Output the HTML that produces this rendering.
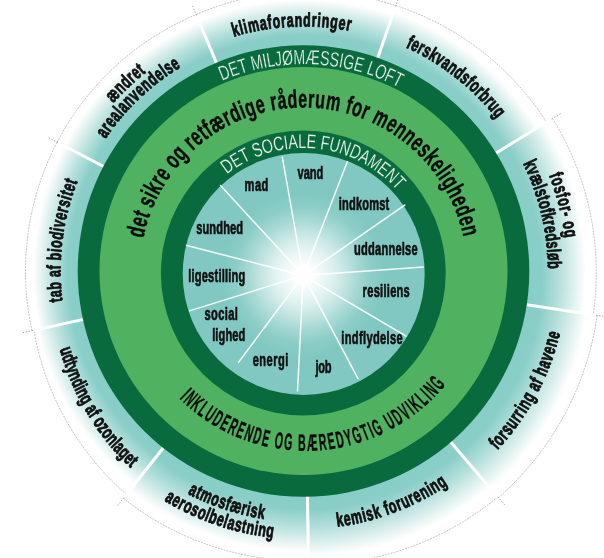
<!DOCTYPE html>
<html><head><meta charset="utf-8"><style>html,body{margin:0;padding:0;background:#fff;}svg{display:block;font-family:"Liberation Sans",sans-serif;will-change:transform;}</style></head>
<body><svg width="604" height="558" viewBox="0 0 604 558" font-family="Liberation Sans, sans-serif">
<defs><radialGradient id="og0" gradientUnits="userSpaceOnUse" cx="303.5" cy="271.0" r="279.5"><stop offset="0.8050" stop-color="#88cdc7"/><stop offset="0.8440" stop-color="#8bcec8"/><stop offset="0.8947" stop-color="#b5e0dc"/><stop offset="0.9376" stop-color="#dff1ef"/><stop offset="0.9708" stop-color="#ffffff"/><stop offset="1" stop-color="#ffffff"/></radialGradient><radialGradient id="og1" gradientUnits="userSpaceOnUse" cx="303.5" cy="271.0" r="283.0"><stop offset="0.7951" stop-color="#88cdc7"/><stop offset="0.8360" stop-color="#8bcec8"/><stop offset="0.8893" stop-color="#b5e0dc"/><stop offset="0.9344" stop-color="#dff1ef"/><stop offset="0.9693" stop-color="#ffffff"/><stop offset="1" stop-color="#ffffff"/></radialGradient><radialGradient id="og2" gradientUnits="userSpaceOnUse" cx="303.5" cy="271.0" r="292.5"><stop offset="0.7692" stop-color="#88cdc7"/><stop offset="0.8154" stop-color="#8bcec8"/><stop offset="0.8754" stop-color="#b5e0dc"/><stop offset="0.9262" stop-color="#dff1ef"/><stop offset="0.9654" stop-color="#ffffff"/><stop offset="1" stop-color="#ffffff"/></radialGradient><radialGradient id="og3" gradientUnits="userSpaceOnUse" cx="303.5" cy="271.0" r="298.0"><stop offset="0.7550" stop-color="#88cdc7"/><stop offset="0.8040" stop-color="#8bcec8"/><stop offset="0.8677" stop-color="#b5e0dc"/><stop offset="0.9216" stop-color="#dff1ef"/><stop offset="0.9633" stop-color="#ffffff"/><stop offset="1" stop-color="#ffffff"/></radialGradient><radialGradient id="og4" gradientUnits="userSpaceOnUse" cx="303.5" cy="271.0" r="296.0"><stop offset="0.7601" stop-color="#88cdc7"/><stop offset="0.8081" stop-color="#8bcec8"/><stop offset="0.8705" stop-color="#b5e0dc"/><stop offset="0.9232" stop-color="#dff1ef"/><stop offset="0.9640" stop-color="#ffffff"/><stop offset="1" stop-color="#ffffff"/></radialGradient><radialGradient id="og5" gradientUnits="userSpaceOnUse" cx="303.5" cy="271.0" r="290.0"><stop offset="0.7759" stop-color="#88cdc7"/><stop offset="0.8207" stop-color="#8bcec8"/><stop offset="0.8790" stop-color="#b5e0dc"/><stop offset="0.9283" stop-color="#dff1ef"/><stop offset="0.9664" stop-color="#ffffff"/><stop offset="1" stop-color="#ffffff"/></radialGradient><radialGradient id="og6" gradientUnits="userSpaceOnUse" cx="303.5" cy="271.0" r="280.5"><stop offset="0.8021" stop-color="#88cdc7"/><stop offset="0.8417" stop-color="#8bcec8"/><stop offset="0.8932" stop-color="#b5e0dc"/><stop offset="0.9367" stop-color="#dff1ef"/><stop offset="0.9703" stop-color="#ffffff"/><stop offset="1" stop-color="#ffffff"/></radialGradient><radialGradient id="og7" gradientUnits="userSpaceOnUse" cx="303.5" cy="271.0" r="278.0"><stop offset="0.8094" stop-color="#88cdc7"/><stop offset="0.8475" stop-color="#8bcec8"/><stop offset="0.8971" stop-color="#b5e0dc"/><stop offset="0.9390" stop-color="#dff1ef"/><stop offset="0.9714" stop-color="#ffffff"/><stop offset="1" stop-color="#ffffff"/></radialGradient><radialGradient id="og8" gradientUnits="userSpaceOnUse" cx="303.5" cy="271.0" r="278.0"><stop offset="0.8094" stop-color="#88cdc7"/><stop offset="0.8475" stop-color="#8bcec8"/><stop offset="0.8971" stop-color="#b5e0dc"/><stop offset="0.9390" stop-color="#dff1ef"/><stop offset="0.9714" stop-color="#ffffff"/><stop offset="1" stop-color="#ffffff"/></radialGradient><radialGradient id="glow" gradientUnits="userSpaceOnUse" cx="303.2" cy="274.5" r="100"><stop offset="0" stop-color="#fff"/><stop offset="0.07" stop-color="#fff" stop-opacity="1"/><stop offset="0.18" stop-color="#fff" stop-opacity="0.88"/><stop offset="0.3" stop-color="#fff" stop-opacity="0.74"/><stop offset="0.42" stop-color="#fff" stop-opacity="0.54"/><stop offset="0.55" stop-color="#fff" stop-opacity="0.3"/><stop offset="0.68" stop-color="#fff" stop-opacity="0.1"/><stop offset="0.82" stop-color="#fff" stop-opacity="0.0"/><stop offset="1" stop-color="#fff" stop-opacity="0"/></radialGradient></defs>
<rect width="604" height="558" fill="#fff"/>
<path d="M196.22 14.53 L200.90 12.55 L205.61 10.64 L210.36 8.83 L215.15 7.10 L219.96 5.45 L224.81 3.90 L229.69 2.43 L234.59 1.06 L239.52 -0.23 L244.47 -1.43 L249.45 -2.54 L254.45 -3.55 L259.46 -4.48 L264.49 -5.31 L269.54 -6.05 L274.61 -6.70 L279.68 -7.26 L284.77 -7.72 L289.86 -8.09 L294.96 -8.37 L300.07 -8.55 L305.18 -8.64 L310.30 -8.64 L315.41 -8.55 L320.53 -8.36 L325.64 -8.07 L330.74 -7.70 L335.84 -7.23 L340.93 -6.66 L346.01 -6.01 L351.08 -5.26 L356.14 -4.41 L361.18 -3.48 L366.20 -2.45 L371.21 -1.33 L376.20 -0.12 L381.16 1.18 L386.10 2.57 L391.02 4.06 L395.91 5.63 L377.49 58.52 A225 225 0 0 0 216.67 63.43 Z" fill="url(#og0)"/><path d="M196.22 14.53 L200.90 12.55 L205.61 10.64 L210.36 8.83 L215.15 7.10 L219.96 5.45 L224.81 3.90 L229.69 2.43 L234.59 1.06 L239.52 -0.23 L244.47 -1.43 L249.45 -2.54 L254.45 -3.55 L259.46 -4.48 L264.49 -5.31 L269.54 -6.05 L274.61 -6.70 L279.68 -7.26 L284.77 -7.72 L289.86 -8.09 L294.96 -8.37 L300.07 -8.55 L305.18 -8.64 L310.30 -8.64 L315.41 -8.55 L320.53 -8.36 L325.64 -8.07 L330.74 -7.70 L335.84 -7.23 L340.93 -6.66 L346.01 -6.01 L351.08 -5.26 L356.14 -4.41 L361.18 -3.48 L366.20 -2.45 L371.21 -1.33 L376.20 -0.12 L381.16 1.18 L386.10 2.57 L391.02 4.06 L395.91 5.63" fill="none" stroke="#808080" stroke-width="0.7" stroke-dasharray="2 1" opacity="0.65"/><path d="M395.91 5.63 L400.48 7.16 L405.03 8.77 L409.55 10.46 L414.04 12.22 L418.50 14.06 L422.93 15.98 L427.33 17.98 L431.70 20.05 L436.03 22.20 L440.32 24.42 L444.58 26.71 L448.80 29.08 L452.98 31.52 L457.12 34.04 L461.22 36.62 L465.27 39.28 L469.28 42.01 L473.24 44.80 L477.15 47.67 L481.02 50.60 L484.84 53.60 L488.60 56.67 L492.32 59.80 L495.98 62.99 L499.59 66.25 L503.14 69.57 L506.64 72.96 L510.08 76.40 L513.46 79.90 L516.78 83.47 L520.04 87.09 L523.24 90.76 L526.37 94.50 L529.45 98.28 L532.46 102.12 L535.40 106.02 L538.28 109.96 L541.09 113.95 L543.83 118.00 L546.50 122.09 L495.34 153.44 A225 225 0 0 0 377.49 58.52 Z" fill="url(#og1)"/><path d="M395.91 5.63 L400.48 7.16 L405.03 8.77 L409.55 10.46 L414.04 12.22 L418.50 14.06 L422.93 15.98 L427.33 17.98 L431.70 20.05 L436.03 22.20 L440.32 24.42 L444.58 26.71 L448.80 29.08 L452.98 31.52 L457.12 34.04 L461.22 36.62 L465.27 39.28 L469.28 42.01 L473.24 44.80 L477.15 47.67 L481.02 50.60 L484.84 53.60 L488.60 56.67 L492.32 59.80 L495.98 62.99 L499.59 66.25 L503.14 69.57 L506.64 72.96 L510.08 76.40 L513.46 79.90 L516.78 83.47 L520.04 87.09 L523.24 90.76 L526.37 94.50 L529.45 98.28 L532.46 102.12 L535.40 106.02 L538.28 109.96 L541.09 113.95 L543.83 118.00 L546.50 122.09" fill="none" stroke="#808080" stroke-width="0.7" stroke-dasharray="2 1" opacity="0.65"/><path d="M552.47 118.43 L555.12 122.80 L557.70 127.21 L560.20 131.67 L562.62 136.17 L564.96 140.71 L567.22 145.30 L569.40 149.92 L571.51 154.58 L573.52 159.28 L575.46 164.01 L577.31 168.77 L579.09 173.57 L580.77 178.40 L582.37 183.26 L583.89 188.14 L585.32 193.06 L586.66 197.99 L587.92 202.95 L589.09 207.93 L590.18 212.94 L591.18 217.96 L592.08 222.99 L592.90 228.05 L593.64 233.11 L594.28 238.19 L594.83 243.28 L595.30 248.38 L595.68 253.49 L595.96 258.60 L596.16 263.72 L596.27 268.84 L596.28 273.96 L596.21 279.09 L596.05 284.21 L595.80 289.33 L595.46 294.44 L595.03 299.55 L594.51 304.65 L593.90 309.74 L593.21 314.81 L525.97 304.65 A225 225 0 0 0 495.34 153.44 Z" fill="url(#og2)"/><path d="M552.47 118.43 L555.12 122.80 L557.70 127.21 L560.20 131.67 L562.62 136.17 L564.96 140.71 L567.22 145.30 L569.40 149.92 L571.51 154.58 L573.52 159.28 L575.46 164.01 L577.31 168.77 L579.09 173.57 L580.77 178.40 L582.37 183.26 L583.89 188.14 L585.32 193.06 L586.66 197.99 L587.92 202.95 L589.09 207.93 L590.18 212.94 L591.18 217.96 L592.08 222.99 L592.90 228.05 L593.64 233.11 L594.28 238.19 L594.83 243.28 L595.30 248.38 L595.68 253.49 L595.96 258.60 L596.16 263.72 L596.27 268.84 L596.28 273.96 L596.21 279.09 L596.05 284.21 L595.80 289.33 L595.46 294.44 L595.03 299.55 L594.51 304.65 L593.90 309.74 L593.21 314.81" fill="none" stroke="#808080" stroke-width="0.7" stroke-dasharray="2 1" opacity="0.65"/><path d="M597.16 315.41 L596.37 320.63 L595.50 325.83 L594.53 331.02 L593.46 336.19 L592.31 341.34 L591.06 346.47 L589.72 351.58 L588.30 356.66 L586.78 361.72 L585.17 366.75 L583.47 371.75 L581.69 376.73 L579.81 381.67 L577.85 386.58 L575.80 391.45 L573.66 396.29 L571.44 401.09 L569.13 405.85 L566.74 410.57 L564.26 415.25 L561.70 419.88 L559.06 424.47 L556.34 429.01 L553.53 433.50 L550.65 437.94 L547.69 442.33 L544.65 446.67 L541.53 450.96 L538.34 455.19 L535.07 459.36 L531.72 463.47 L528.31 467.53 L524.82 471.52 L521.26 475.46 L517.63 479.32 L513.93 483.13 L510.17 486.87 L506.34 490.54 L502.44 494.15 L498.48 497.68 L450.22 441.58 A225 225 0 0 0 525.97 304.65 Z" fill="url(#og3)"/><path d="M597.16 315.41 L596.37 320.63 L595.50 325.83 L594.53 331.02 L593.46 336.19 L592.31 341.34 L591.06 346.47 L589.72 351.58 L588.30 356.66 L586.78 361.72 L585.17 366.75 L583.47 371.75 L581.69 376.73 L579.81 381.67 L577.85 386.58 L575.80 391.45 L573.66 396.29 L571.44 401.09 L569.13 405.85 L566.74 410.57 L564.26 415.25 L561.70 419.88 L559.06 424.47 L556.34 429.01 L553.53 433.50 L550.65 437.94 L547.69 442.33 L544.65 446.67 L541.53 450.96 L538.34 455.19 L535.07 459.36 L531.72 463.47 L528.31 467.53 L524.82 471.52 L521.26 475.46 L517.63 479.32 L513.93 483.13 L510.17 486.87 L506.34 490.54 L502.44 494.15 L498.48 497.68" fill="none" stroke="#808080" stroke-width="0.7" stroke-dasharray="2 1" opacity="0.65"/><path d="M497.83 496.92 L493.82 500.18 L489.76 503.36 L485.64 506.48 L481.48 509.52 L477.26 512.48 L473.00 515.37 L468.68 518.19 L464.32 520.93 L459.92 523.59 L455.47 526.18 L450.97 528.68 L446.44 531.11 L441.87 533.46 L437.25 535.73 L432.60 537.92 L427.92 540.02 L423.20 542.05 L418.45 543.99 L413.67 545.84 L408.85 547.62 L404.01 549.31 L399.14 550.91 L394.25 552.43 L389.33 553.86 L384.39 555.21 L379.43 556.47 L374.45 557.65 L369.45 558.74 L364.44 559.74 L359.41 560.65 L354.37 561.48 L349.31 562.22 L344.25 562.87 L339.17 563.43 L334.09 563.91 L329.01 564.29 L323.91 564.59 L318.82 564.80 L313.73 564.92 L308.63 564.96 L307.43 495.97 A225 225 0 0 0 450.22 441.58 Z" fill="url(#og4)"/><path d="M497.83 496.92 L493.82 500.18 L489.76 503.36 L485.64 506.48 L481.48 509.52 L477.26 512.48 L473.00 515.37 L468.68 518.19 L464.32 520.93 L459.92 523.59 L455.47 526.18 L450.97 528.68 L446.44 531.11 L441.87 533.46 L437.25 535.73 L432.60 537.92 L427.92 540.02 L423.20 542.05 L418.45 543.99 L413.67 545.84 L408.85 547.62 L404.01 549.31 L399.14 550.91 L394.25 552.43 L389.33 553.86 L384.39 555.21 L379.43 556.47 L374.45 557.65 L369.45 558.74 L364.44 559.74 L359.41 560.65 L354.37 561.48 L349.31 562.22 L344.25 562.87 L339.17 563.43 L334.09 563.91 L329.01 564.29 L323.91 564.59 L318.82 564.80 L313.73 564.92 L308.63 564.96" fill="none" stroke="#808080" stroke-width="0.7" stroke-dasharray="2 1" opacity="0.65"/><path d="M308.56 560.96 L303.58 561.00 L298.59 560.96 L293.61 560.83 L288.63 560.62 L283.65 560.32 L278.68 559.94 L273.72 559.47 L268.76 558.91 L263.82 558.27 L258.88 557.55 L253.96 556.74 L249.06 555.84 L244.17 554.87 L239.30 553.80 L234.45 552.66 L229.62 551.43 L224.81 550.12 L220.02 548.72 L215.26 547.25 L210.52 545.69 L205.81 544.05 L201.13 542.33 L196.49 540.53 L191.87 538.65 L187.28 536.69 L182.73 534.66 L178.22 532.54 L173.74 530.35 L169.30 528.08 L164.90 525.74 L160.54 523.32 L156.23 520.82 L151.95 518.25 L147.73 515.61 L143.54 512.90 L139.41 510.11 L135.32 507.26 L131.29 504.33 L127.30 501.33 L123.37 498.27 L163.74 447.33 A225 225 0 0 0 307.43 495.97 Z" fill="url(#og5)"/><path d="M308.56 560.96 L303.58 561.00 L298.59 560.96 L293.61 560.83 L288.63 560.62 L283.65 560.32 L278.68 559.94 L273.72 559.47 L268.76 558.91 L263.82 558.27 L258.88 557.55 L253.96 556.74 L249.06 555.84 L244.17 554.87 L239.30 553.80 L234.45 552.66 L229.62 551.43 L224.81 550.12 L220.02 548.72 L215.26 547.25 L210.52 545.69 L205.81 544.05 L201.13 542.33 L196.49 540.53 L191.87 538.65 L187.28 536.69 L182.73 534.66 L178.22 532.54 L173.74 530.35 L169.30 528.08 L164.90 525.74 L160.54 523.32 L156.23 520.82 L151.95 518.25 L147.73 515.61 L143.54 512.90 L139.41 510.11 L135.32 507.26 L131.29 504.33 L127.30 501.33 L123.37 498.27" fill="none" stroke="#808080" stroke-width="0.7" stroke-dasharray="2 1" opacity="0.65"/><path d="M126.47 494.35 L122.82 491.12 L119.23 487.82 L115.70 484.47 L112.22 481.06 L108.81 477.60 L105.47 474.08 L102.18 470.50 L98.96 466.87 L95.81 463.19 L92.72 459.46 L89.69 455.68 L86.74 451.85 L83.85 447.98 L81.04 444.06 L78.29 440.09 L75.61 436.08 L73.01 432.03 L70.47 427.94 L68.01 423.81 L65.62 419.64 L63.31 415.44 L61.07 411.19 L58.90 406.92 L56.81 402.61 L54.80 398.27 L52.86 393.90 L51.00 389.50 L49.21 385.07 L47.51 380.61 L45.88 376.13 L44.33 371.63 L42.85 367.11 L41.46 362.56 L40.15 357.99 L38.91 353.41 L37.76 348.81 L36.68 344.19 L35.69 339.56 L34.77 334.92 L33.94 330.27 L83.75 319.32 A225 225 0 0 0 163.74 447.33 Z" fill="url(#og6)"/><path d="M126.47 494.35 L122.82 491.12 L119.23 487.82 L115.70 484.47 L112.22 481.06 L108.81 477.60 L105.47 474.08 L102.18 470.50 L98.96 466.87 L95.81 463.19 L92.72 459.46 L89.69 455.68 L86.74 451.85 L83.85 447.98 L81.04 444.06 L78.29 440.09 L75.61 436.08 L73.01 432.03 L70.47 427.94 L68.01 423.81 L65.62 419.64 L63.31 415.44 L61.07 411.19 L58.90 406.92 L56.81 402.61 L54.80 398.27 L52.86 393.90 L51.00 389.50 L49.21 385.07 L47.51 380.61 L45.88 376.13 L44.33 371.63 L42.85 367.11 L41.46 362.56 L40.15 357.99 L38.91 353.41 L37.76 348.81 L36.68 344.19 L35.69 339.56 L34.77 334.92 L33.94 330.27" fill="none" stroke="#808080" stroke-width="0.7" stroke-dasharray="2 1" opacity="0.65"/><path d="M31.99 330.70 L30.98 325.95 L30.07 321.18 L29.23 316.40 L28.48 311.61 L27.82 306.81 L27.23 301.99 L26.73 297.16 L26.32 292.33 L25.99 287.49 L25.74 282.64 L25.58 277.79 L25.51 272.94 L25.52 268.09 L25.61 263.24 L25.79 258.39 L26.05 253.54 L26.40 248.70 L26.83 243.87 L27.34 239.05 L27.94 234.23 L28.63 229.43 L29.39 224.64 L30.24 219.86 L31.18 215.10 L32.20 210.36 L33.29 205.63 L34.48 200.92 L35.74 196.24 L37.09 191.58 L38.51 186.94 L40.02 182.33 L41.61 177.74 L43.28 173.19 L45.02 168.66 L46.85 164.17 L48.75 159.70 L50.73 155.27 L52.79 150.88 L54.93 146.52 L57.14 142.20 L104.10 166.76 A225 225 0 0 0 83.75 319.32 Z" fill="url(#og7)"/><path d="M31.99 330.70 L30.98 325.95 L30.07 321.18 L29.23 316.40 L28.48 311.61 L27.82 306.81 L27.23 301.99 L26.73 297.16 L26.32 292.33 L25.99 287.49 L25.74 282.64 L25.58 277.79 L25.51 272.94 L25.52 268.09 L25.61 263.24 L25.79 258.39 L26.05 253.54 L26.40 248.70 L26.83 243.87 L27.34 239.05 L27.94 234.23 L28.63 229.43 L29.39 224.64 L30.24 219.86 L31.18 215.10 L32.20 210.36 L33.29 205.63 L34.48 200.92 L35.74 196.24 L37.09 191.58 L38.51 186.94 L40.02 182.33 L41.61 177.74 L43.28 173.19 L45.02 168.66 L46.85 164.17 L48.75 159.70 L50.73 155.27 L52.79 150.88 L54.93 146.52 L57.14 142.20" fill="none" stroke="#808080" stroke-width="0.7" stroke-dasharray="2 1" opacity="0.65"/><path d="M57.14 142.20 L59.40 137.96 L61.74 133.75 L64.16 129.58 L66.64 125.46 L69.20 121.38 L71.83 117.34 L74.52 113.35 L77.29 109.41 L80.12 105.51 L83.02 101.67 L85.99 97.87 L89.02 94.13 L92.12 90.44 L95.27 86.81 L98.50 83.23 L101.78 79.71 L105.12 76.24 L108.53 72.84 L111.99 69.49 L115.51 66.20 L119.08 62.98 L122.71 59.81 L126.40 56.71 L130.14 53.68 L133.93 50.71 L137.77 47.80 L141.66 44.97 L145.60 42.20 L149.59 39.49 L153.62 36.86 L157.70 34.30 L161.82 31.81 L165.98 29.39 L170.19 27.05 L174.44 24.78 L178.72 22.58 L183.04 20.45 L187.40 18.40 L191.79 16.43 L196.22 14.53 L216.67 63.43 A225 225 0 0 0 104.10 166.76 Z" fill="url(#og8)"/><path d="M57.14 142.20 L59.40 137.96 L61.74 133.75 L64.16 129.58 L66.64 125.46 L69.20 121.38 L71.83 117.34 L74.52 113.35 L77.29 109.41 L80.12 105.51 L83.02 101.67 L85.99 97.87 L89.02 94.13 L92.12 90.44 L95.27 86.81 L98.50 83.23 L101.78 79.71 L105.12 76.24 L108.53 72.84 L111.99 69.49 L115.51 66.20 L119.08 62.98 L122.71 59.81 L126.40 56.71 L130.14 53.68 L133.93 50.71 L137.77 47.80 L141.66 44.97 L145.60 42.20 L149.59 39.49 L153.62 36.86 L157.70 34.30 L161.82 31.81 L165.98 29.39 L170.19 27.05 L174.44 24.78 L178.72 22.58 L183.04 20.45 L187.40 18.40 L191.79 16.43 L196.22 14.53" fill="none" stroke="#808080" stroke-width="0.7" stroke-dasharray="2 1" opacity="0.65"/><line x1="377.17" y1="59.46" x2="395.58" y2="6.57" stroke="#fff" stroke-width="3"/><line x1="395.58" y1="6.57" x2="399.20" y2="-3.81" stroke="#888" stroke-width="0.7" stroke-dasharray="1.5 1.5"/><line x1="494.49" y1="153.96" x2="551.62" y2="118.95" stroke="#fff" stroke-width="3"/><line x1="551.62" y1="118.95" x2="561.00" y2="113.21" stroke="#888" stroke-width="0.7" stroke-dasharray="1.5 1.5"/><line x1="524.98" y1="304.50" x2="596.17" y2="315.26" stroke="#fff" stroke-width="3"/><line x1="596.17" y1="315.26" x2="607.05" y2="316.91" stroke="#888" stroke-width="0.7" stroke-dasharray="1.5 1.5"/><line x1="449.57" y1="440.82" x2="497.83" y2="496.92" stroke="#fff" stroke-width="3"/><line x1="497.83" y1="496.92" x2="505.00" y2="505.26" stroke="#888" stroke-width="0.7" stroke-dasharray="1.5 1.5"/><line x1="307.41" y1="494.97" x2="308.61" y2="563.96" stroke="#fff" stroke-width="3"/><line x1="308.61" y1="563.96" x2="308.81" y2="574.95" stroke="#888" stroke-width="0.7" stroke-dasharray="1.5 1.5"/><line x1="164.36" y1="446.55" x2="123.99" y2="497.49" stroke="#fff" stroke-width="3"/><line x1="123.99" y1="497.49" x2="117.16" y2="506.11" stroke="#888" stroke-width="0.7" stroke-dasharray="1.5 1.5"/><line x1="84.73" y1="319.10" x2="32.96" y2="330.48" stroke="#fff" stroke-width="3"/><line x1="32.96" y1="330.48" x2="22.22" y2="332.84" stroke="#888" stroke-width="0.7" stroke-dasharray="1.5 1.5"/><line x1="104.99" y1="167.22" x2="58.02" y2="142.67" stroke="#fff" stroke-width="3"/><line x1="58.02" y1="142.67" x2="48.27" y2="137.57" stroke="#888" stroke-width="0.7" stroke-dasharray="1.5 1.5"/><line x1="217.06" y1="64.35" x2="196.60" y2="15.46" stroke="#fff" stroke-width="3"/><line x1="196.60" y1="15.46" x2="192.36" y2="5.31" stroke="#888" stroke-width="0.7" stroke-dasharray="1.5 1.5"/><circle cx="303.5" cy="271.0" r="225.8" fill="#096a3d"/><circle cx="303.5" cy="271.0" r="204" fill="#50b260"/><circle cx="303.3" cy="273" r="142.4" fill="#096a3d"/><circle cx="303.7" cy="273.9" r="121" fill="#80c8c1"/><circle cx="303.2" cy="274.5" r="100" fill="url(#glow)"/><line x1="302.78" y1="272.55" x2="282.20" y2="156.70" stroke="#fff" stroke-width="1.5" stroke-opacity="0.92"/><line x1="304.38" y1="272.70" x2="347.60" y2="161.00" stroke="#fff" stroke-width="1.5" stroke-opacity="0.92"/><line x1="305.77" y1="273.79" x2="405.40" y2="204.70" stroke="#fff" stroke-width="1.5" stroke-opacity="0.92"/><line x1="306.29" y1="275.29" x2="423.80" y2="266.90" stroke="#fff" stroke-width="1.5" stroke-opacity="0.92"/><line x1="305.88" y1="277.02" x2="406.50" y2="336.40" stroke="#fff" stroke-width="1.5" stroke-opacity="0.92"/><line x1="304.71" y1="278.15" x2="358.40" y2="379.30" stroke="#fff" stroke-width="1.5" stroke-opacity="0.92"/><line x1="303.15" y1="278.50" x2="297.50" y2="391.50" stroke="#fff" stroke-width="1.5" stroke-opacity="0.92"/><line x1="301.51" y1="277.90" x2="238.20" y2="362.80" stroke="#fff" stroke-width="1.5" stroke-opacity="0.92"/><line x1="300.43" y1="276.39" x2="189.30" y2="310.90" stroke="#fff" stroke-width="1.5" stroke-opacity="0.92"/><line x1="300.40" y1="274.75" x2="185.80" y2="245.20" stroke="#fff" stroke-width="1.5" stroke-opacity="0.92"/><line x1="301.27" y1="273.29" x2="220.10" y2="185.10" stroke="#fff" stroke-width="1.5" stroke-opacity="0.92"/>
<g font-size="20.5" fill="#eefaf0" text-anchor="middle" stroke="#096a3d" stroke-width="0.3" vector-effect="non-scaling-stroke" stroke-linejoin="round"><text transform="translate(226.75 78.97) rotate(-21.79) scale(0.690 1.0)" >D</text><text transform="translate(235.95 75.54) rotate(-19.07) scale(0.690 1.0)" >E</text><text transform="translate(244.55 72.78) rotate(-16.56) scale(0.690 1.0)" >T</text><text transform="translate(258.22 69.22) rotate(-12.65) scale(0.690 1.0)" >M</text><text transform="translate(265.91 67.65) rotate(-10.47) scale(0.690 1.0)" >I</text><text transform="translate(271.72 66.66) rotate(-8.84) scale(0.690 1.0)" >L</text><text transform="translate(279.12 65.64) rotate(-6.77) scale(0.690 1.0)" >J</text><text transform="translate(288.10 64.77) rotate(-4.27) scale(0.690 1.0)" >Ø</text><text transform="translate(299.48 64.24) rotate(-1.12) scale(0.690 1.0)" >M</text><text transform="translate(312.43 64.39) rotate(2.47) scale(0.690 1.0)" >Æ</text><text transform="translate(324.18 65.24) rotate(5.74) scale(0.690 1.0)" >S</text><text transform="translate(333.53 66.39) rotate(8.35) scale(0.690 1.0)" >S</text><text transform="translate(340.12 67.47) rotate(10.20) scale(0.690 1.0)" >I</text><text transform="translate(347.44 68.92) rotate(12.27) scale(0.690 1.0)" >G</text><text transform="translate(357.36 71.34) rotate(15.10) scale(0.690 1.0)" >E</text><text transform="translate(369.39 74.98) rotate(18.58) scale(0.690 1.0)" >L</text><text transform="translate(378.26 78.19) rotate(21.19) scale(0.690 1.0)" >O</text><text transform="translate(387.32 81.95) rotate(23.91) scale(0.690 1.0)" >F</text><text transform="translate(395.14 85.61) rotate(26.30) scale(0.690 1.0)" >T</text></g><g font-size="19.8" fill="#eefaf0" text-anchor="middle" stroke="#096a3d" stroke-width="0.2" vector-effect="non-scaling-stroke" stroke-linejoin="round"><text transform="translate(231.04 171.15) rotate(-35.43) scale(0.723 1.0)" >D</text><text transform="translate(239.36 165.71) rotate(-30.87) scale(0.723 1.0)" >E</text><text transform="translate(247.37 161.31) rotate(-26.68) scale(0.723 1.0)" >T</text><text transform="translate(259.38 156.04) rotate(-20.67) scale(0.723 1.0)" >S</text><text transform="translate(269.20 152.80) rotate(-15.93) scale(0.723 1.0)" >O</text><text transform="translate(279.64 150.30) rotate(-11.01) scale(0.723 1.0)" >C</text><text transform="translate(286.70 149.13) rotate(-7.72) scale(0.723 1.0)" >I</text><text transform="translate(293.42 148.41) rotate(-4.62) scale(0.723 1.0)" >A</text><text transform="translate(302.17 148.01) rotate(-0.61) scale(0.723 1.0)" >L</text><text transform="translate(310.92 148.22) rotate(3.40) scale(0.723 1.0)" >E</text><text transform="translate(323.95 149.68) rotate(9.42) scale(0.723 1.0)" >F</text><text transform="translate(333.29 151.60) rotate(13.79) scale(0.723 1.0)" >U</text><text transform="translate(343.22 154.48) rotate(18.53) scale(0.723 1.0)" >N</text><text transform="translate(352.88 158.16) rotate(23.27) scale(0.723 1.0)" >D</text><text transform="translate(361.84 162.45) rotate(27.82) scale(0.723 1.0)" >A</text><text transform="translate(371.11 167.86) rotate(32.74) scale(0.723 1.0)" >M</text><text transform="translate(379.88 174.05) rotate(37.67) scale(0.723 1.0)" >E</text><text transform="translate(387.50 180.43) rotate(42.22) scale(0.723 1.0)" >N</text><text transform="translate(394.32 187.11) rotate(46.60) scale(0.723 1.0)" >T</text></g><g font-size="25.5" fill="#0a0a0a" text-anchor="middle" stroke="#0a0a0a" stroke-width="0.45" vector-effect="non-scaling-stroke" stroke-linejoin="round"><text transform="translate(144.33 233.61) rotate(-76.78) scale(0.630 1.0)" font-weight="bold">d</text><text transform="translate(146.90 224.01) rotate(-73.30) scale(0.630 1.0)" font-weight="bold">e</text><text transform="translate(149.29 216.68) rotate(-70.60) scale(0.630 1.0)" font-weight="bold">t</text><text transform="translate(153.98 204.85) rotate(-66.13) scale(0.630 1.0)" font-weight="bold">s</text><text transform="translate(157.06 198.27) rotate(-63.59) scale(0.630 1.0)" font-weight="bold">i</text><text transform="translate(160.44 191.84) rotate(-61.04) scale(0.630 1.0)" font-weight="bold">k</text><text transform="translate(164.57 184.81) rotate(-58.19) scale(0.630 1.0)" font-weight="bold">r</text><text transform="translate(169.04 177.98) rotate(-55.33) scale(0.630 1.0)" font-weight="bold">e</text><text transform="translate(178.10 166.08) rotate(-50.08) scale(0.630 1.0)" font-weight="bold">o</text><text transform="translate(185.01 158.34) rotate(-46.44) scale(0.630 1.0)" font-weight="bold">g</text><text transform="translate(194.80 148.87) rotate(-41.67) scale(0.630 1.0)" font-weight="bold">r</text><text transform="translate(201.02 143.60) rotate(-38.81) scale(0.630 1.0)" font-weight="bold">e</text><text transform="translate(207.14 138.91) rotate(-36.11) scale(0.630 1.0)" font-weight="bold">t</text><text transform="translate(211.98 135.51) rotate(-34.04) scale(0.630 1.0)" font-weight="bold">f</text><text transform="translate(220.76 129.98) rotate(-30.40) scale(0.630 1.0)" font-weight="bold">æ</text><text transform="translate(230.28 124.81) rotate(-26.60) scale(0.630 1.0)" font-weight="bold">r</text><text transform="translate(238.07 121.16) rotate(-23.59) scale(0.630 1.0)" font-weight="bold">d</text><text transform="translate(245.19 118.25) rotate(-20.89) scale(0.630 1.0)" font-weight="bold">i</text><text transform="translate(252.45 115.67) rotate(-18.19) scale(0.630 1.0)" font-weight="bold">g</text><text transform="translate(261.98 112.86) rotate(-14.71) scale(0.630 1.0)" font-weight="bold">e</text><text transform="translate(274.86 110.03) rotate(-10.09) scale(0.630 1.0)" font-weight="bold">r</text><text transform="translate(282.92 108.80) rotate(-7.23) scale(0.630 1.0)" font-weight="bold">å</text><text transform="translate(292.81 107.85) rotate(-3.75) scale(0.630 1.0)" font-weight="bold">d</text><text transform="translate(302.74 107.50) rotate(-0.27) scale(0.630 1.0)" font-weight="bold">e</text><text transform="translate(310.90 107.67) rotate(2.59) scale(0.630 1.0)" font-weight="bold">r</text><text transform="translate(319.47 108.28) rotate(5.61) scale(0.630 1.0)" font-weight="bold">u</text><text transform="translate(331.97 110.00) rotate(10.03) scale(0.630 1.0)" font-weight="bold">m</text><text transform="translate(346.99 113.39) rotate(15.43) scale(0.630 1.0)" font-weight="bold">f</text><text transform="translate(354.79 115.75) rotate(18.28) scale(0.630 1.0)" font-weight="bold">o</text><text transform="translate(362.87 118.66) rotate(21.29) scale(0.630 1.0)" font-weight="bold">r</text><text transform="translate(377.35 125.13) rotate(26.85) scale(0.630 1.0)" font-weight="bold">m</text><text transform="translate(388.00 131.03) rotate(31.12) scale(0.630 1.0)" font-weight="bold">e</text><text transform="translate(396.34 136.42) rotate(34.60) scale(0.630 1.0)" font-weight="bold">n</text><text transform="translate(404.69 142.58) rotate(38.24) scale(0.630 1.0)" font-weight="bold">n</text><text transform="translate(412.31 148.96) rotate(41.72) scale(0.630 1.0)" font-weight="bold">e</text><text transform="translate(419.21 155.49) rotate(45.05) scale(0.630 1.0)" font-weight="bold">s</text><text transform="translate(425.72 162.40) rotate(48.38) scale(0.630 1.0)" font-weight="bold">k</text><text transform="translate(431.82 169.68) rotate(51.71) scale(0.630 1.0)" font-weight="bold">e</text><text transform="translate(436.20 175.48) rotate(54.25) scale(0.630 1.0)" font-weight="bold">l</text><text transform="translate(439.07 179.60) rotate(56.01) scale(0.630 1.0)" font-weight="bold">i</text><text transform="translate(443.22 186.09) rotate(58.71) scale(0.630 1.0)" font-weight="bold">g</text><text transform="translate(448.33 195.12) rotate(62.35) scale(0.630 1.0)" font-weight="bold">h</text><text transform="translate(452.67 204.06) rotate(65.83) scale(0.630 1.0)" font-weight="bold">e</text><text transform="translate(456.46 213.25) rotate(69.32) scale(0.630 1.0)" font-weight="bold">d</text><text transform="translate(459.69 222.65) rotate(72.80) scale(0.630 1.0)" font-weight="bold">e</text><text transform="translate(462.34 232.22) rotate(76.28) scale(0.630 1.0)" font-weight="bold">n</text></g><g font-size="23.5" fill="#0a0a0a" text-anchor="middle" stroke="#0a0a0a" stroke-width="0.4" vector-effect="non-scaling-stroke" stroke-linejoin="round"><text transform="translate(180.22 399.43) rotate(43.83) scale(0.450 1.0)" font-weight="bold">I</text><text transform="translate(185.23 404.18) rotate(41.61) scale(0.450 1.0)" font-weight="bold">N</text><text transform="translate(192.23 410.24) rotate(38.63) scale(0.450 1.0)" font-weight="bold">K</text><text transform="translate(199.07 415.58) rotate(35.84) scale(0.450 1.0)" font-weight="bold">L</text><text transform="translate(206.16 420.59) rotate(33.05) scale(0.450 1.0)" font-weight="bold">U</text><text transform="translate(214.00 425.55) rotate(30.08) scale(0.450 1.0)" font-weight="bold">D</text><text transform="translate(221.83 429.96) rotate(27.19) scale(0.450 1.0)" font-weight="bold">E</text><text transform="translate(229.88 433.98) rotate(24.31) scale(0.450 1.0)" font-weight="bold">R</text><text transform="translate(238.12 437.59) rotate(21.43) scale(0.450 1.0)" font-weight="bold">E</text><text transform="translate(246.55 440.78) rotate(18.54) scale(0.450 1.0)" font-weight="bold">N</text><text transform="translate(255.41 443.63) rotate(15.57) scale(0.450 1.0)" font-weight="bold">D</text><text transform="translate(264.13 445.95) rotate(12.68) scale(0.450 1.0)" font-weight="bold">E</text><text transform="translate(277.77 448.65) rotate(8.24) scale(0.450 1.0)" font-weight="bold">O</text><text transform="translate(287.61 449.94) rotate(5.07) scale(0.450 1.0)" font-weight="bold">G</text><text transform="translate(301.81 450.82) rotate(0.54) scale(0.450 1.0)" font-weight="bold">B</text><text transform="translate(312.64 450.74) rotate(-2.91) scale(0.450 1.0)" font-weight="bold">Æ</text><text transform="translate(323.46 450.01) rotate(-6.36) scale(0.450 1.0)" font-weight="bold">R</text><text transform="translate(332.46 448.90) rotate(-9.25) scale(0.450 1.0)" font-weight="bold">E</text><text transform="translate(341.40 447.33) rotate(-12.13) scale(0.450 1.0)" font-weight="bold">D</text><text transform="translate(350.25 445.32) rotate(-15.01) scale(0.450 1.0)" font-weight="bold">Y</text><text transform="translate(359.28 442.77) rotate(-17.99) scale(0.450 1.0)" font-weight="bold">G</text><text transform="translate(367.89 439.86) rotate(-20.87) scale(0.450 1.0)" font-weight="bold">T</text><text transform="translate(373.87 437.55) rotate(-22.90) scale(0.450 1.0)" font-weight="bold">I</text><text transform="translate(380.58 434.66) rotate(-25.22) scale(0.450 1.0)" font-weight="bold">G</text><text transform="translate(393.38 428.22) rotate(-29.76) scale(0.450 1.0)" font-weight="bold">U</text><text transform="translate(401.49 423.44) rotate(-32.73) scale(0.450 1.0)" font-weight="bold">D</text><text transform="translate(409.10 418.42) rotate(-35.62) scale(0.450 1.0)" font-weight="bold">V</text><text transform="translate(414.56 414.47) rotate(-37.74) scale(0.450 1.0)" font-weight="bold">I</text><text transform="translate(420.09 410.13) rotate(-39.96) scale(0.450 1.0)" font-weight="bold">K</text><text transform="translate(426.80 404.38) rotate(-42.75) scale(0.450 1.0)" font-weight="bold">L</text><text transform="translate(431.51 399.98) rotate(-44.78) scale(0.450 1.0)" font-weight="bold">I</text><text transform="translate(436.48 394.99) rotate(-47.00) scale(0.450 1.0)" font-weight="bold">N</text><text transform="translate(443.03 387.77) rotate(-50.08) scale(0.450 1.0)" font-weight="bold">G</text></g><g font-size="19.5" fill="#111" text-anchor="middle" stroke="#111" stroke-width="0.9" vector-effect="non-scaling-stroke" stroke-linejoin="round"><text transform="translate(236.98 35.72) rotate(-15.79) scale(0.640 1.0)" font-weight="bold">k</text><text transform="translate(242.71 34.18) rotate(-14.40) scale(0.640 1.0)" font-weight="bold">l</text><text transform="translate(246.78 33.17) rotate(-13.41) scale(0.640 1.0)" font-weight="bold">i</text><text transform="translate(254.61 31.44) rotate(-11.54) scale(0.640 1.0)" font-weight="bold">m</text><text transform="translate(264.19 29.68) rotate(-9.25) scale(0.640 1.0)" font-weight="bold">a</text><text transform="translate(270.40 28.75) rotate(-7.78) scale(0.640 1.0)" font-weight="bold">f</text><text transform="translate(276.97 27.94) rotate(-6.23) scale(0.640 1.0)" font-weight="bold">o</text><text transform="translate(283.91 27.29) rotate(-4.60) scale(0.640 1.0)" font-weight="bold">r</text><text transform="translate(290.52 26.84) rotate(-3.04) scale(0.640 1.0)" font-weight="bold">a</text><text transform="translate(298.53 26.55) rotate(-1.16) scale(0.640 1.0)" font-weight="bold">n</text><text transform="translate(306.88 26.52) rotate(0.79) scale(0.640 1.0)" font-weight="bold">d</text><text transform="translate(313.85 26.72) rotate(2.43) scale(0.640 1.0)" font-weight="bold">r</text><text transform="translate(318.73 26.98) rotate(3.57) scale(0.640 1.0)" font-weight="bold">i</text><text transform="translate(324.99 27.45) rotate(5.04) scale(0.640 1.0)" font-weight="bold">n</text><text transform="translate(333.30 28.32) rotate(7.00) scale(0.640 1.0)" font-weight="bold">g</text><text transform="translate(341.23 29.43) rotate(8.88) scale(0.640 1.0)" font-weight="bold">e</text><text transform="translate(347.77 30.54) rotate(10.43) scale(0.640 1.0)" font-weight="bold">r</text></g><g font-size="19.5" fill="#111" text-anchor="middle" stroke="#111" stroke-width="0.9" vector-effect="non-scaling-stroke" stroke-linejoin="round"><text transform="translate(407.40 48.02) rotate(24.98) scale(0.640 1.0)" font-weight="bold">f</text><text transform="translate(412.79 50.61) rotate(26.38) scale(0.640 1.0)" font-weight="bold">e</text><text transform="translate(418.43 53.50) rotate(27.85) scale(0.640 1.0)" font-weight="bold">r</text><text transform="translate(423.99 56.53) rotate(29.33) scale(0.640 1.0)" font-weight="bold">s</text><text transform="translate(430.37 60.24) rotate(31.05) scale(0.640 1.0)" font-weight="bold">k</text><text transform="translate(436.63 64.13) rotate(32.76) scale(0.640 1.0)" font-weight="bold">v</text><text transform="translate(442.77 68.22) rotate(34.48) scale(0.640 1.0)" font-weight="bold">a</text><text transform="translate(449.06 72.68) rotate(36.28) scale(0.640 1.0)" font-weight="bold">n</text><text transform="translate(455.47 77.56) rotate(38.15) scale(0.640 1.0)" font-weight="bold">d</text><text transform="translate(461.47 82.42) rotate(39.95) scale(0.640 1.0)" font-weight="bold">s</text><text transform="translate(466.00 86.32) rotate(41.34) scale(0.640 1.0)" font-weight="bold">f</text><text transform="translate(470.70 90.55) rotate(42.82) scale(0.640 1.0)" font-weight="bold">o</text><text transform="translate(475.53 95.16) rotate(44.37) scale(0.640 1.0)" font-weight="bold">r</text><text transform="translate(480.24 99.89) rotate(45.93) scale(0.640 1.0)" font-weight="bold">b</text><text transform="translate(484.82 104.75) rotate(47.48) scale(0.640 1.0)" font-weight="bold">r</text><text transform="translate(489.26 109.72) rotate(49.04) scale(0.640 1.0)" font-weight="bold">u</text><text transform="translate(494.44 115.89) rotate(50.91) scale(0.640 1.0)" font-weight="bold">g</text></g><g font-size="19.5" fill="#111" text-anchor="middle" stroke="#111" stroke-width="0.9" vector-effect="non-scaling-stroke" stroke-linejoin="round"><text transform="translate(549.75 177.22) rotate(69.15) scale(0.640 1.0)" font-weight="bold">f</text><text transform="translate(552.03 183.44) rotate(70.59) scale(0.640 1.0)" font-weight="bold">o</text><text transform="translate(554.58 191.04) rotate(72.34) scale(0.640 1.0)" font-weight="bold">s</text><text transform="translate(556.41 197.05) rotate(73.70) scale(0.640 1.0)" font-weight="bold">f</text><text transform="translate(558.19 203.44) rotate(75.14) scale(0.640 1.0)" font-weight="bold">o</text><text transform="translate(559.89 210.20) rotate(76.66) scale(0.640 1.0)" font-weight="bold">r</text><text transform="translate(561.05 215.31) rotate(77.80) scale(0.640 1.0)" font-weight="bold">-</text><text transform="translate(563.12 225.94) rotate(80.15) scale(0.640 1.0)" font-weight="bold">o</text><text transform="translate(564.42 234.20) rotate(81.97) scale(0.640 1.0)" font-weight="bold">g</text></g><g font-size="19.5" fill="#111" text-anchor="middle" stroke="#111" stroke-width="0.9" vector-effect="non-scaling-stroke" stroke-linejoin="round"><text transform="translate(524.57 166.56) rotate(64.71) scale(0.640 1.0)" font-weight="bold">k</text><text transform="translate(527.61 173.24) rotate(66.43) scale(0.640 1.0)" font-weight="bold">v</text><text transform="translate(531.20 181.94) rotate(68.64) scale(0.640 1.0)" font-weight="bold">æ</text><text transform="translate(533.89 189.13) rotate(70.44) scale(0.640 1.0)" font-weight="bold">l</text><text transform="translate(535.70 194.42) rotate(71.75) scale(0.640 1.0)" font-weight="bold">s</text><text transform="translate(537.49 200.09) rotate(73.14) scale(0.640 1.0)" font-weight="bold">t</text><text transform="translate(539.24 206.13) rotate(74.61) scale(0.640 1.0)" font-weight="bold">o</text><text transform="translate(540.83 212.20) rotate(76.09) scale(0.640 1.0)" font-weight="bold">f</text><text transform="translate(542.18 217.99) rotate(77.48) scale(0.640 1.0)" font-weight="bold">k</text><text transform="translate(543.47 224.15) rotate(78.95) scale(0.640 1.0)" font-weight="bold">r</text><text transform="translate(544.60 230.34) rotate(80.43) scale(0.640 1.0)" font-weight="bold">e</text><text transform="translate(545.75 237.93) rotate(82.23) scale(0.640 1.0)" font-weight="bold">d</text><text transform="translate(546.67 245.55) rotate(84.02) scale(0.640 1.0)" font-weight="bold">s</text><text transform="translate(547.19 251.12) rotate(85.34) scale(0.640 1.0)" font-weight="bold">l</text><text transform="translate(547.60 257.05) rotate(86.73) scale(0.640 1.0)" font-weight="bold">ø</text><text transform="translate(547.93 265.06) rotate(88.61) scale(0.640 1.0)" font-weight="bold">b</text></g><g font-size="19.5" fill="#111" text-anchor="middle" stroke="#111" stroke-width="0.9" vector-effect="non-scaling-stroke" stroke-linejoin="round"><text transform="translate(498.61 448.84) rotate(-47.65) scale(0.640 1.0)" font-weight="bold">f</text><text transform="translate(503.01 443.89) rotate(-49.09) scale(0.640 1.0)" font-weight="bold">o</text><text transform="translate(507.50 438.57) rotate(-50.60) scale(0.640 1.0)" font-weight="bold">r</text><text transform="translate(511.65 433.39) rotate(-52.04) scale(0.640 1.0)" font-weight="bold">s</text><text transform="translate(516.48 427.00) rotate(-53.78) scale(0.640 1.0)" font-weight="bold">u</text><text transform="translate(520.52 421.32) rotate(-55.29) scale(0.640 1.0)" font-weight="bold">r</text><text transform="translate(523.65 416.70) rotate(-56.50) scale(0.640 1.0)" font-weight="bold">r</text><text transform="translate(526.32 412.59) rotate(-57.57) scale(0.640 1.0)" font-weight="bold">i</text><text transform="translate(529.62 407.26) rotate(-58.93) scale(0.640 1.0)" font-weight="bold">n</text><text transform="translate(533.82 400.04) rotate(-60.74) scale(0.640 1.0)" font-weight="bold">g</text><text transform="translate(539.54 389.25) rotate(-63.39) scale(0.640 1.0)" font-weight="bold">a</text><text transform="translate(542.28 383.60) rotate(-64.75) scale(0.640 1.0)" font-weight="bold">f</text><text transform="translate(546.69 373.73) rotate(-67.10) scale(0.640 1.0)" font-weight="bold">h</text><text transform="translate(549.70 366.30) rotate(-68.84) scale(0.640 1.0)" font-weight="bold">a</text><text transform="translate(552.36 359.11) rotate(-70.50) scale(0.640 1.0)" font-weight="bold">v</text><text transform="translate(554.82 351.84) rotate(-72.17) scale(0.640 1.0)" font-weight="bold">e</text><text transform="translate(557.16 344.18) rotate(-73.91) scale(0.640 1.0)" font-weight="bold">n</text><text transform="translate(559.26 336.45) rotate(-75.65) scale(0.640 1.0)" font-weight="bold">e</text></g><g font-size="19.5" fill="#111" text-anchor="middle" stroke="#111" stroke-width="0.9" vector-effect="non-scaling-stroke" stroke-linejoin="round"><text transform="translate(340.61 526.32) rotate(-8.27) scale(0.640 1.0)" font-weight="bold">k</text><text transform="translate(348.15 525.11) rotate(-9.97) scale(0.640 1.0)" font-weight="bold">e</text><text transform="translate(357.69 523.25) rotate(-12.12) scale(0.640 1.0)" font-weight="bold">m</text><text transform="translate(365.46 521.45) rotate(-13.90) scale(0.640 1.0)" font-weight="bold">i</text><text transform="translate(371.17 519.97) rotate(-15.21) scale(0.640 1.0)" font-weight="bold">s</text><text transform="translate(378.51 517.85) rotate(-16.90) scale(0.640 1.0)" font-weight="bold">k</text><text transform="translate(388.41 514.63) rotate(-19.21) scale(0.640 1.0)" font-weight="bold">f</text><text transform="translate(394.60 512.38) rotate(-20.68) scale(0.640 1.0)" font-weight="bold">o</text><text transform="translate(401.05 509.85) rotate(-22.22) scale(0.640 1.0)" font-weight="bold">r</text><text transform="translate(407.44 507.14) rotate(-23.76) scale(0.640 1.0)" font-weight="bold">u</text><text transform="translate(413.75 504.26) rotate(-25.30) scale(0.640 1.0)" font-weight="bold">r</text><text transform="translate(419.67 501.36) rotate(-26.76) scale(0.640 1.0)" font-weight="bold">e</text><text transform="translate(426.74 497.66) rotate(-28.53) scale(0.640 1.0)" font-weight="bold">n</text><text transform="translate(432.19 494.61) rotate(-29.92) scale(0.640 1.0)" font-weight="bold">i</text><text transform="translate(437.56 491.44) rotate(-31.31) scale(0.640 1.0)" font-weight="bold">n</text><text transform="translate(444.60 487.00) rotate(-33.15) scale(0.640 1.0)" font-weight="bold">g</text></g><g font-size="19.5" fill="#111" text-anchor="middle" stroke="#111" stroke-width="0.9" vector-effect="non-scaling-stroke" stroke-linejoin="round"><text transform="translate(190.69 495.22) rotate(26.71) scale(0.640 1.0)" font-weight="bold">a</text><text transform="translate(196.25 497.93) rotate(25.30) scale(0.640 1.0)" font-weight="bold">t</text><text transform="translate(203.78 501.34) rotate(23.41) scale(0.640 1.0)" font-weight="bold">m</text><text transform="translate(213.03 505.13) rotate(21.13) scale(0.640 1.0)" font-weight="bold">o</text><text transform="translate(220.47 507.87) rotate(19.32) scale(0.640 1.0)" font-weight="bold">s</text><text transform="translate(226.33 509.84) rotate(17.91) scale(0.640 1.0)" font-weight="bold">f</text><text transform="translate(234.24 512.25) rotate(16.02) scale(0.640 1.0)" font-weight="bold">æ</text><text transform="translate(242.56 514.49) rotate(14.05) scale(0.640 1.0)" font-weight="bold">r</text><text transform="translate(247.22 515.61) rotate(12.96) scale(0.640 1.0)" font-weight="bold">i</text><text transform="translate(252.93 516.85) rotate(11.62) scale(0.640 1.0)" font-weight="bold">s</text><text transform="translate(260.38 518.27) rotate(9.89) scale(0.640 1.0)" font-weight="bold">k</text></g><g font-size="19.5" fill="#111" text-anchor="middle" stroke="#111" stroke-width="0.9" vector-effect="non-scaling-stroke" stroke-linejoin="round"><text transform="translate(166.99 502.21) rotate(30.56) scale(0.640 1.0)" font-weight="bold">a</text><text transform="translate(173.52 505.94) rotate(28.95) scale(0.640 1.0)" font-weight="bold">e</text><text transform="translate(179.24 509.01) rotate(27.57) scale(0.640 1.0)" font-weight="bold">r</text><text transform="translate(185.33 512.10) rotate(26.11) scale(0.640 1.0)" font-weight="bold">o</text><text transform="translate(192.45 515.46) rotate(24.43) scale(0.640 1.0)" font-weight="bold">s</text><text transform="translate(199.66 518.61) rotate(22.75) scale(0.640 1.0)" font-weight="bold">o</text><text transform="translate(205.34 520.91) rotate(21.44) scale(0.640 1.0)" font-weight="bold">l</text><text transform="translate(211.08 523.09) rotate(20.13) scale(0.640 1.0)" font-weight="bold">b</text><text transform="translate(218.51 525.69) rotate(18.45) scale(0.640 1.0)" font-weight="bold">e</text><text transform="translate(224.02 527.47) rotate(17.22) scale(0.640 1.0)" font-weight="bold">l</text><text transform="translate(229.57 529.12) rotate(15.98) scale(0.640 1.0)" font-weight="bold">a</text><text transform="translate(236.84 531.09) rotate(14.38) scale(0.640 1.0)" font-weight="bold">s</text><text transform="translate(242.80 532.55) rotate(13.07) scale(0.640 1.0)" font-weight="bold">t</text><text transform="translate(249.13 533.94) rotate(11.68) scale(0.640 1.0)" font-weight="bold">n</text><text transform="translate(255.15 535.11) rotate(10.37) scale(0.640 1.0)" font-weight="bold">i</text><text transform="translate(261.19 536.15) rotate(9.07) scale(0.640 1.0)" font-weight="bold">n</text><text transform="translate(269.32 537.32) rotate(7.31) scale(0.640 1.0)" font-weight="bold">g</text></g><g font-size="19.5" fill="#111" text-anchor="middle" stroke="#111" stroke-width="0.9" vector-effect="non-scaling-stroke" stroke-linejoin="round"><text transform="translate(60.79 352.93) rotate(71.35) scale(0.640 1.0)" font-weight="bold">u</text><text transform="translate(63.06 360.32) rotate(69.62) scale(0.640 1.0)" font-weight="bold">d</text><text transform="translate(64.97 366.01) rotate(68.28) scale(0.640 1.0)" font-weight="bold">t</text><text transform="translate(66.89 371.34) rotate(67.02) scale(0.640 1.0)" font-weight="bold">y</text><text transform="translate(69.59 378.25) rotate(65.37) scale(0.640 1.0)" font-weight="bold">n</text><text transform="translate(72.63 385.40) rotate(63.64) scale(0.640 1.0)" font-weight="bold">d</text><text transform="translate(74.99 390.56) rotate(62.38) scale(0.640 1.0)" font-weight="bold">i</text><text transform="translate(77.46 395.69) rotate(61.12) scale(0.640 1.0)" font-weight="bold">n</text><text transform="translate(81.04 402.61) rotate(59.39) scale(0.640 1.0)" font-weight="bold">g</text><text transform="translate(86.46 412.25) rotate(56.94) scale(0.640 1.0)" font-weight="bold">a</text><text transform="translate(89.42 417.13) rotate(55.68) scale(0.640 1.0)" font-weight="bold">f</text><text transform="translate(94.69 425.25) rotate(53.55) scale(0.640 1.0)" font-weight="bold">o</text><text transform="translate(98.76 431.11) rotate(51.97) scale(0.640 1.0)" font-weight="bold">z</text><text transform="translate(102.99 436.86) rotate(50.40) scale(0.640 1.0)" font-weight="bold">o</text><text transform="translate(107.83 443.05) rotate(48.68) scale(0.640 1.0)" font-weight="bold">n</text><text transform="translate(111.49 447.48) rotate(47.41) scale(0.640 1.0)" font-weight="bold">l</text><text transform="translate(115.01 451.57) rotate(46.23) scale(0.640 1.0)" font-weight="bold">a</text><text transform="translate(120.07 457.16) rotate(44.58) scale(0.640 1.0)" font-weight="bold">g</text><text transform="translate(125.29 462.60) rotate(42.93) scale(0.640 1.0)" font-weight="bold">e</text><text transform="translate(129.39 466.66) rotate(41.67) scale(0.640 1.0)" font-weight="bold">t</text></g><g font-size="19.5" fill="#111" text-anchor="middle" stroke="#111" stroke-width="0.9" vector-effect="non-scaling-stroke" stroke-linejoin="round"><text transform="translate(62.16 299.39) rotate(263.29) scale(0.640 1.0)" font-weight="bold">t</text><text transform="translate(61.52 293.29) rotate(264.74) scale(0.640 1.0)" font-weight="bold">a</text><text transform="translate(60.93 285.44) rotate(266.59) scale(0.640 1.0)" font-weight="bold">b</text><text transform="translate(60.51 273.52) rotate(269.41) scale(0.640 1.0)" font-weight="bold">a</text><text transform="translate(60.53 267.39) rotate(270.85) scale(0.640 1.0)" font-weight="bold">f</text><text transform="translate(60.91 256.86) rotate(273.34) scale(0.640 1.0)" font-weight="bold">b</text><text transform="translate(61.35 250.74) rotate(274.78) scale(0.640 1.0)" font-weight="bold">i</text><text transform="translate(61.93 244.63) rotate(276.23) scale(0.640 1.0)" font-weight="bold">o</text><text transform="translate(62.96 236.49) rotate(278.17) scale(0.640 1.0)" font-weight="bold">d</text><text transform="translate(63.91 230.43) rotate(279.61) scale(0.640 1.0)" font-weight="bold">i</text><text transform="translate(64.95 224.73) rotate(280.98) scale(0.640 1.0)" font-weight="bold">v</text><text transform="translate(66.49 217.36) rotate(282.75) scale(0.640 1.0)" font-weight="bold">e</text><text transform="translate(68.01 211.05) rotate(284.28) scale(0.640 1.0)" font-weight="bold">r</text><text transform="translate(69.70 204.79) rotate(285.81) scale(0.640 1.0)" font-weight="bold">s</text><text transform="translate(71.34 199.23) rotate(287.18) scale(0.640 1.0)" font-weight="bold">i</text><text transform="translate(72.68 195.04) rotate(288.22) scale(0.640 1.0)" font-weight="bold">t</text><text transform="translate(74.67 189.23) rotate(289.66) scale(0.640 1.0)" font-weight="bold">e</text><text transform="translate(76.81 183.48) rotate(291.11) scale(0.640 1.0)" font-weight="bold">t</text></g><g font-size="19.5" fill="#111" text-anchor="middle" stroke="#111" stroke-width="0.9" vector-effect="non-scaling-stroke" stroke-linejoin="round"><text transform="translate(117.06 99.24) rotate(312.65) scale(0.640 1.0)" font-weight="bold">æ</text><text transform="translate(123.93 92.07) rotate(314.90) scale(0.640 1.0)" font-weight="bold">n</text><text transform="translate(129.80 86.36) rotate(316.75) scale(0.640 1.0)" font-weight="bold">d</text><text transform="translate(134.82 81.77) rotate(318.29) scale(0.640 1.0)" font-weight="bold">r</text><text transform="translate(139.70 77.53) rotate(319.75) scale(0.640 1.0)" font-weight="bold">e</text><text transform="translate(144.42 73.63) rotate(321.13) scale(0.640 1.0)" font-weight="bold">t</text></g><g font-size="19.5" fill="#111" text-anchor="middle" stroke="#111" stroke-width="0.9" vector-effect="non-scaling-stroke" stroke-linejoin="round"><text transform="translate(107.44 136.07) rotate(304.54) scale(0.640 1.0)" font-weight="bold">a</text><text transform="translate(111.18 130.80) rotate(306.09) scale(0.640 1.0)" font-weight="bold">r</text><text transform="translate(115.06 125.62) rotate(307.65) scale(0.640 1.0)" font-weight="bold">e</text><text transform="translate(119.74 119.75) rotate(309.46) scale(0.640 1.0)" font-weight="bold">a</text><text transform="translate(123.46 115.34) rotate(310.85) scale(0.640 1.0)" font-weight="bold">l</text><text transform="translate(127.29 111.02) rotate(312.24) scale(0.640 1.0)" font-weight="bold">a</text><text transform="translate(132.66 105.29) rotate(314.13) scale(0.640 1.0)" font-weight="bold">n</text><text transform="translate(138.22 99.75) rotate(316.02) scale(0.640 1.0)" font-weight="bold">v</text><text transform="translate(143.71 94.62) rotate(317.82) scale(0.640 1.0)" font-weight="bold">e</text><text transform="translate(149.61 89.44) rotate(319.71) scale(0.640 1.0)" font-weight="bold">n</text><text transform="translate(155.95 84.26) rotate(321.69) scale(0.640 1.0)" font-weight="bold">d</text><text transform="translate(162.19 79.49) rotate(323.58) scale(0.640 1.0)" font-weight="bold">e</text><text transform="translate(166.88 76.12) rotate(324.97) scale(0.640 1.0)" font-weight="bold">l</text><text transform="translate(171.64 72.86) rotate(326.36) scale(0.640 1.0)" font-weight="bold">s</text><text transform="translate(177.96 68.80) rotate(328.16) scale(0.640 1.0)" font-weight="bold">e</text></g><text transform="translate(244.60 190.70) scale(0.600 1)" font-size="18.5" letter-spacing="0.814" font-weight="bold" fill="#111" stroke="#111" stroke-width="0.6" vector-effect="non-scaling-stroke" stroke-linejoin="round">mad</text><text transform="translate(297.60 178.90) scale(0.600 1)" font-size="18.5" letter-spacing="-0.060" font-weight="bold" fill="#111" stroke="#111" stroke-width="0.6" vector-effect="non-scaling-stroke" stroke-linejoin="round">vand</text><text transform="translate(338.70 210.10) scale(0.600 1)" font-size="18.5" letter-spacing="0.301" font-weight="bold" fill="#111" stroke="#111" stroke-width="0.6" vector-effect="non-scaling-stroke" stroke-linejoin="round">indkomst</text><text transform="translate(354.00 254.50) scale(0.600 1)" font-size="18.5" letter-spacing="0.374" font-weight="bold" fill="#111" stroke="#111" stroke-width="0.6" vector-effect="non-scaling-stroke" stroke-linejoin="round">uddannelse</text><text transform="translate(362.60 297.00) scale(0.600 1)" font-size="18.5" letter-spacing="0.449" font-weight="bold" fill="#111" stroke="#111" stroke-width="0.6" vector-effect="non-scaling-stroke" stroke-linejoin="round">resiliens</text><text transform="translate(341.30 344.40) scale(0.600 1)" font-size="18.5" letter-spacing="0.570" font-weight="bold" fill="#111" stroke="#111" stroke-width="0.6" vector-effect="non-scaling-stroke" stroke-linejoin="round">indflydelse</text><text transform="translate(315.40 372.60) scale(0.600 1)" font-size="18.5" letter-spacing="-0.454" font-weight="bold" fill="#111" stroke="#111" stroke-width="0.6" vector-effect="non-scaling-stroke" stroke-linejoin="round">job</text><text transform="translate(252.70 366.40) scale(0.600 1)" font-size="18.5" letter-spacing="0.796" font-weight="bold" fill="#111" stroke="#111" stroke-width="0.6" vector-effect="non-scaling-stroke" stroke-linejoin="round">energi</text><text transform="translate(204.50 319.90) scale(0.600 1)" font-size="18.5" letter-spacing="0.611" font-weight="bold" fill="#111" stroke="#111" stroke-width="0.6" vector-effect="non-scaling-stroke" stroke-linejoin="round">social</text><text transform="translate(212.20 340.80) scale(0.600 1)" font-size="18.5" letter-spacing="0.139" font-weight="bold" fill="#111" stroke="#111" stroke-width="0.6" vector-effect="non-scaling-stroke" stroke-linejoin="round">lighed</text><text transform="translate(188.20 281.80) scale(0.600 1)" font-size="18.5" letter-spacing="0.335" font-weight="bold" fill="#111" stroke="#111" stroke-width="0.6" vector-effect="non-scaling-stroke" stroke-linejoin="round">ligestilling</text><text transform="translate(196.20 233.90) scale(0.600 1)" font-size="18.5" letter-spacing="0.181" font-weight="bold" fill="#111" stroke="#111" stroke-width="0.6" vector-effect="non-scaling-stroke" stroke-linejoin="round">sundhed</text>
</svg></body></html>
